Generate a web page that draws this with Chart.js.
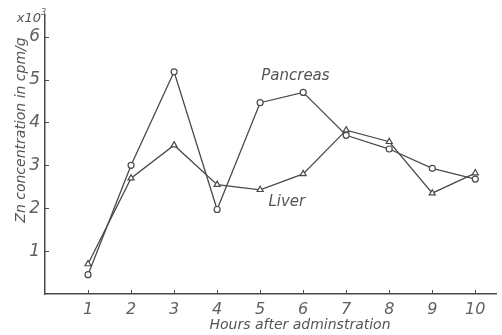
<!DOCTYPE html>
<html>
<head>
<meta charset="utf-8">
<script src="https://cdn.jsdelivr.net/npm/chart.js@4"></script>
<style>
  html, body { margin: 0; padding: 0; background: #fff; }
  #wrap { width: 502px; height: 335px; }
</style>
</head>
<body>
<div id="wrap"><canvas id="myChart"></canvas></div>
<script>
// data
const hours = [1, 2, 3, 4, 5, 6, 7, 8, 9, 10];
const pancreas = [0.45, 3.0, 5.18, 1.97, 4.46, 4.7, 3.7, 3.38, 2.93, 2.68];
const liver = [0.7, 2.7, 3.47, 2.55, 2.43, 2.8, 3.82, 3.55, 2.35, 2.82];
const xTicks = [1, 2, 3, 4, 5, 6, 7, 8, 9, 10];
const yTicks = [1, 2, 3, 4, 5, 6];

const ink = '#4a4a4a';
const fontFam = '"DejaVu Sans", sans-serif';

function toPoints(ys) {
  return hours.map((h, i) => ({ x: h, y: ys[i] }));
}

// inward tick marks, series labels and axis titles
const decorations = {
  id: 'decorations',
  afterDraw(chart) {
    const c = chart.ctx;
    const xs = chart.scales.x, ys = chart.scales.y;
    const a = chart.chartArea;
    c.save();
    c.strokeStyle = ink;
    c.lineWidth = 1;
    xTicks.forEach(v => {
      const px = Math.round(xs.getPixelForValue(v)) + 0.5;
      c.beginPath(); c.moveTo(px, a.bottom); c.lineTo(px, a.bottom - 4); c.stroke();
    });
    yTicks.forEach(v => {
      const py = Math.round(ys.getPixelForValue(v)) + 0.5;
      c.beginPath(); c.moveTo(a.left, py); c.lineTo(a.left + 4, py); c.stroke();
    });

    c.fillStyle = '#555';
    c.textAlign = 'center';
    c.textBaseline = 'middle';
    c.font = 'italic 15px ' + fontFam;
    c.fillText('Pancreas', xs.getPixelForValue(5.82), ys.getPixelForValue(5.08));
    c.fillText('Liver', xs.getPixelForValue(5.62), ys.getPixelForValue(2.15));

    c.font = 'italic 14px ' + fontFam;
    c.fillText('Hours after adminstration', 300, 325);

    c.translate(21, 130);
    c.rotate(-Math.PI / 2);
    c.fillText('Zn concentration in cpm/g', 0, 0);
    c.restore();

    c.save();
    c.fillStyle = '#555';
    c.font = 'italic 13px ' + fontFam;
    c.textAlign = 'right';
    c.textBaseline = 'middle';
    c.fillText('x10', 41, 19);
    c.font = 'italic 8px ' + fontFam;
    c.textAlign = 'left';
    c.fillText('3', 41, 13);
    c.restore();
  }
};

const ctx = document.getElementById('myChart').getContext('2d');
const chart = new Chart(ctx, {
  type: 'line',
  data: {
    datasets: [
      {
        label: 'Pancreas',
        data: toPoints(pancreas),
        borderColor: ink,
        borderWidth: 1.3,
        backgroundColor: '#fff',
        pointStyle: 'circle',
        pointRadius: 3,
        pointBorderWidth: 1.2,
        pointBorderColor: ink,
        pointBackgroundColor: '#fff',
        tension: 0,
      },
      {
        label: 'Liver',
        data: toPoints(liver),
        borderColor: ink,
        borderWidth: 1.3,
        backgroundColor: '#fff',
        pointStyle: 'triangle',
        pointRadius: 3.5,
        pointBorderWidth: 1.2,
        pointBorderColor: ink,
        pointBackgroundColor: '#fff',
        tension: 0,
      },
    ],
  },
  options: {
    responsive: true,
    maintainAspectRatio: false,
    animation: false,
    devicePixelRatio: 1,
    layout: { padding: { top: 12, right: 0, left: 0, bottom: 0 } },
    scales: {
      x: {
        type: 'linear',
        min: 0,
        max: 10.5,
        afterBuildTicks: (scale) => { scale.ticks = xTicks.map(v => ({ value: v })); },
        afterFit: (scale) => { scale.height = 41; },
        grid: { display: false, drawTicks: false },
        border: { display: true, color: ink, width: 1.5 },
        ticks: {
          padding: 6,
          color: '#606060',
          font: { family: fontFam, size: 16, style: 'italic' },
          maxRotation: 0,
          autoSkip: false,
        },
      },
      y: {
        type: 'linear',
        min: 0,
        max: 6.5,
        afterBuildTicks: (scale) => { scale.ticks = yTicks.map(v => ({ value: v })); },
        afterFit: (scale) => { scale.width = 45; },
        grid: { display: false, drawTicks: false },
        border: { display: true, color: ink, width: 1.5 },
        ticks: {
          padding: 5,
          color: '#606060',
          font: { family: fontFam, size: 17, style: 'italic' },
          autoSkip: false,
        },
      },
    },
    plugins: {
      legend: { display: false },
      tooltip: { enabled: false },
    },
  },
  plugins: [decorations],
});
</script>
</body>
</html>
